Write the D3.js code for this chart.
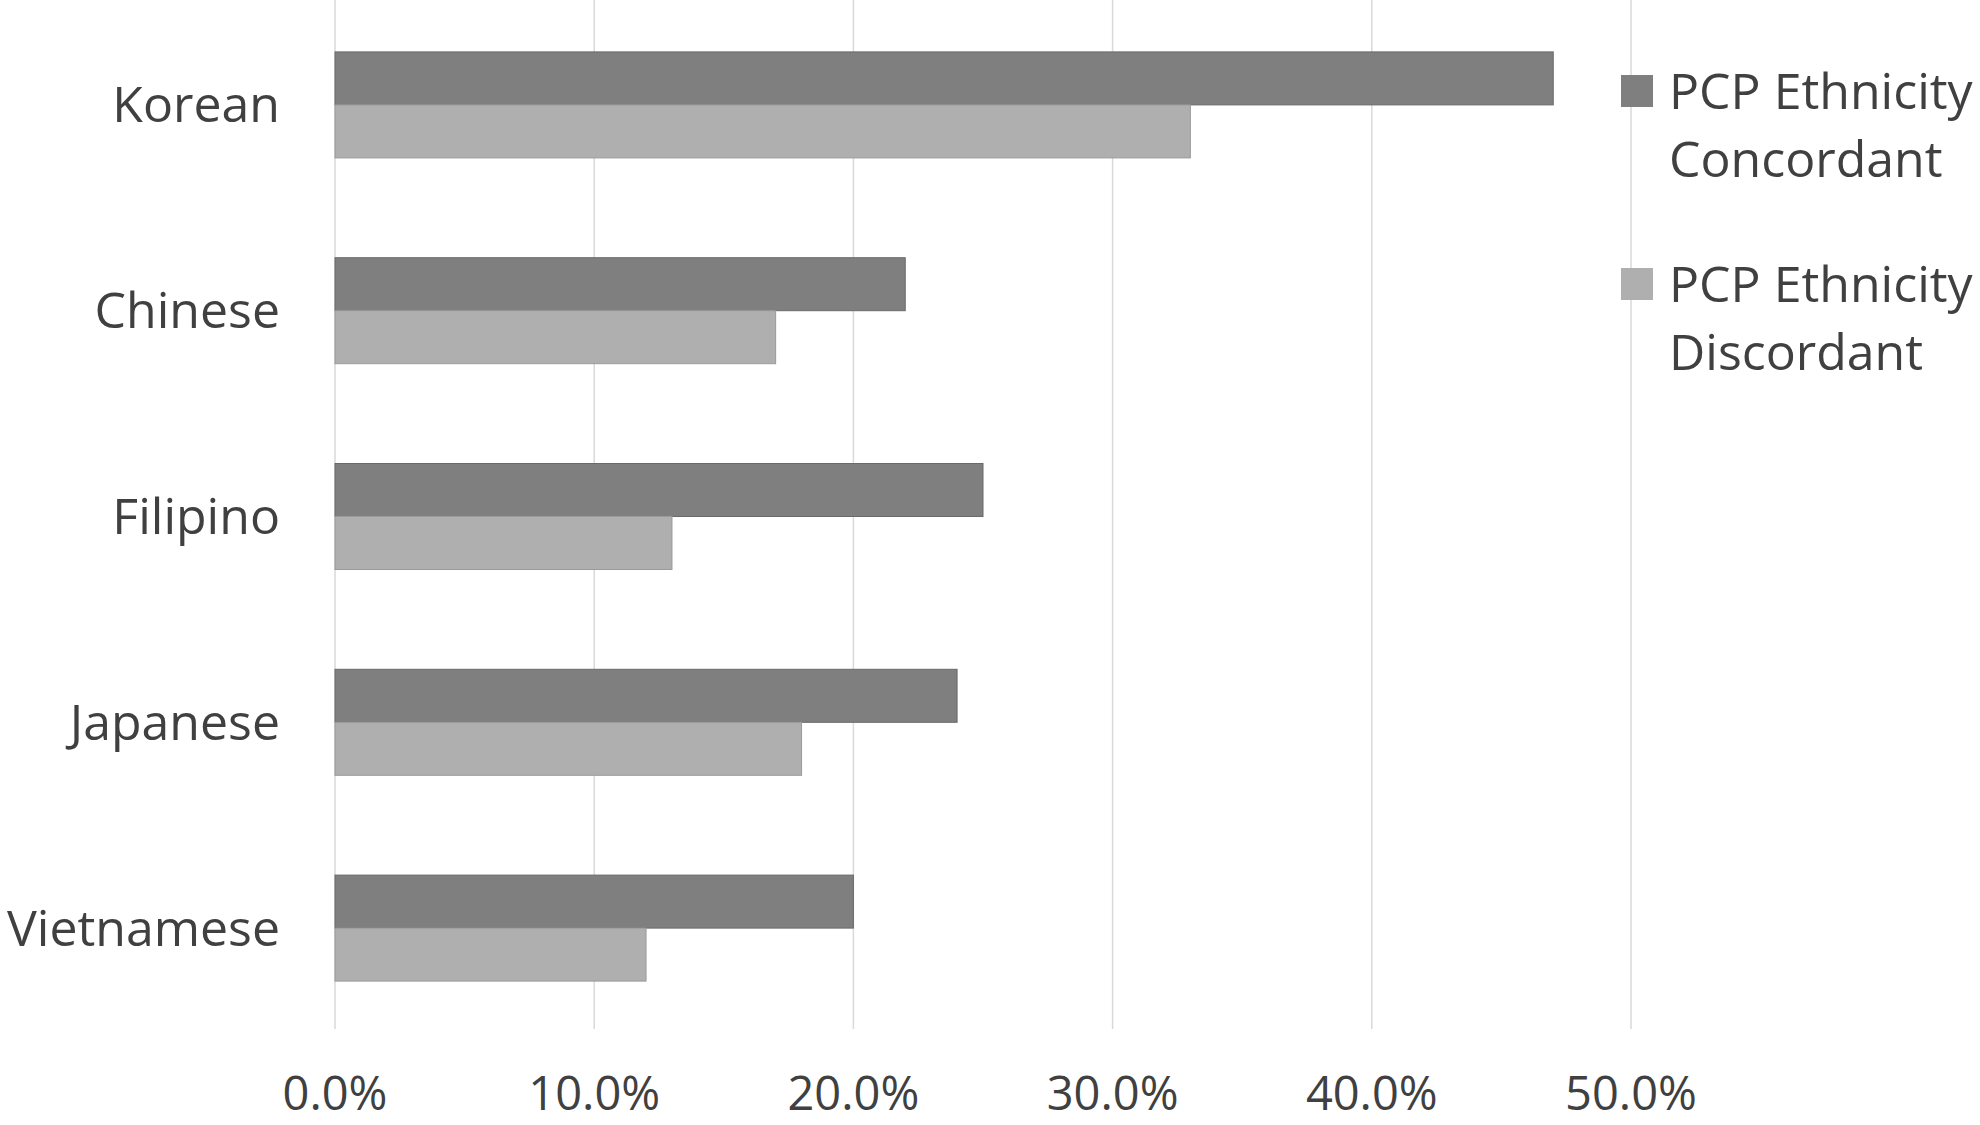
<!DOCTYPE html>
<html><head><meta charset="utf-8">
<script src="https://cdn.jsdelivr.net/npm/d3@7"></script>
<style>body{margin:0;background:#fff}</style></head>
<body><svg id="c" width="1980" height="1125"></svg>
<script>
const categories = ["Korean","Chinese","Filipino","Japanese","Vietnamese"];
const concordant = [47,22,25,24,20];
const discordant = [33,17,13,18,12];
const seriesNames = ["PCP Ethnicity Concordant","PCP Ethnicity Discordant"];
const tickValues = [0,10,20,30,40,50];
const colors = ["#7f7f7f","#afafaf"];

const svg = d3.select("#c");
const font = "'Open Sans', 'Noto Sans', sans-serif";
const x = d3.scaleLinear().domain([0,50]).range([335,1631]);
const y = d3.scaleBand().domain(categories).range([0,1029]);
const barH = 53;

svg.append("g").selectAll("line").data(tickValues).join("line")
  .attr("x1",d=>x(d)).attr("x2",d=>x(d)).attr("y1",0).attr("y2",1029)
  .attr("stroke","#d9d9d9").attr("stroke-width",1.5);

[concordant,discordant].forEach((vals,si)=>{
  svg.append("g").selectAll("rect").data(categories).join("rect")
    .attr("x",x(0))
    .attr("y",(d)=>y(d)+y.bandwidth()/2 - barH + si*barH + 2)
    .attr("width",(d,i)=>x(vals[i])-x(0))
    .attr("height",barH)
    .attr("fill",colors[si]).attr("stroke",si?"#9a9a9a":"#6a6a6a").attr("stroke-width",1);
});

svg.append("g").selectAll("text").data(categories).join("text")
  .attr("x",280).attr("y",d=>y(d)+y.bandwidth()/2+2).attr("dy","0.35em")
  .attr("text-anchor","end").attr("font-family",font).attr("font-size",50)
  .attr("fill","#404040").text(d=>d);

svg.append("g").selectAll("text").data(tickValues).join("text")
  .attr("x",d=>x(d)).attr("y",1110).attr("text-anchor","middle")
  .attr("font-family",font).attr("font-size",47).attr("fill","#404040")
  .text(d=>d3.format(".1f")(d)+"%");

const lg = svg.append("g");
seriesNames.forEach((n,i)=>{
  const top = 91 + i*193;
  lg.append("rect").attr("x",1621).attr("y",top-16).attr("width",32).attr("height",32).attr("fill",colors[i]);
  const words = n.split(" ");
  const t = lg.append("text").attr("font-family",font).attr("font-size",50).attr("fill","#404040");
  t.append("tspan").attr("x",1669).attr("y",top).attr("dy","0.35em").text(words.slice(0,2).join(" "));
  t.append("tspan").attr("x",1669).attr("y",top+68).attr("dy","0.35em").text(words[2]);
});
</script></body></html>
